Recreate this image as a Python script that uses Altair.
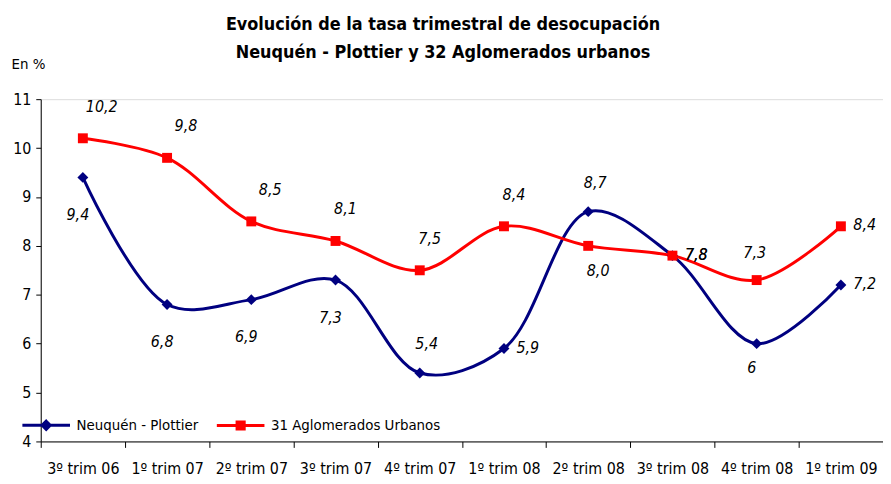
import altair as alt
import pandas as pd

# ---------------- data ----------------
quarters = ["3º trim 06", "1º trim 07", "2º trim 07", "3º trim 07", "4º trim 07",
            "1º trim 08", "2º trim 08", "3º trim 08", "4º trim 08", "1º trim 09"]
neuquen = [9.4, 6.8, 6.9, 7.3, 5.4, 5.9, 8.7, 7.8, 6.0, 7.2]
neuquen_labels = ["9,4", "6,8", "6,9", "7,3", "5,4", "5,9", "8,7", "7,8", "6", "7,2"]
aglom = [10.2, 9.8, 8.5, 8.1, 7.5, 8.4, 8.0, 7.8, 7.3, 8.4]
aglom_labels = ["10,2", "9,8", "8,5", "8,1", "7,5", "8,4", "8,0", "7,8", "7,3", "8,4"]
series_names = ["Neuquén - Plottier", "31 Aglomerados Urbanos"]
y_ticks = [4, 5, 6, 7, 8, 9, 10, 11]
title_lines = ["Evolución de la tasa trimestral de desocupación",
               "Neuquén - Plottier y 32 Aglomerados urbanos"]

# ---------------- layout / style ----------------
neuquen_place = ["bl", "bl", "bl", "bl", "a", "r", "a", "r", "b1", "r"]
aglom_place = ["ar1", "ar1", "ar1", "ar2", "ar2", "ar2", "br", "r", "a2", "r"]
offsets = {"bl": (-5, 38), "a": (7, -29), "r": (24, -1), "b1": (-5, 25),
           "ar1": (19, -32), "ar2": (10, -32), "br": (10, 25), "a2": (-2, -27)}
colors = ["#000080", "#FF0000"]
shapes = ["diamond", "square"]
sizes = [121, 100]
FONT = "DejaVu Sans Condensed, Liberation Sans Narrow, sans-serif"
legend_paths = [
    "M-1,0L1,0M0,-0.17L0.17,0L0,0.17L-0.17,0Z",
    "M-1,0L1,0M-0.15,-0.15L0.15,-0.15L0.15,0.15L-0.15,0.15Z",
]

rows = []
for s, vals, labs, places in [(series_names[0], neuquen, neuquen_labels, neuquen_place),
                              (series_names[1], aglom, aglom_labels, aglom_place)]:
    for q, v, l, p in zip(quarters, vals, labs, places):
        rows.append({"quarter": q, "value": v, "label": l, "series": s, "place": p})
df = pd.DataFrame(rows)

x_enc = alt.X("quarter:N", sort=quarters,
              scale=alt.Scale(type="band", paddingInner=0, paddingOuter=0),
              axis=alt.Axis(title=None, labelAngle=0, tickBand="extent", tickSize=6,
                            labelPadding=13, labelFontSize=16, labelFont=FONT,
                            labelColor="black", domainColor="black", tickColor="black",
                            labelOverlap=False, grid=False))
y_enc = alt.Y("value:Q", scale=alt.Scale(domain=[4, 11], nice=False, zero=False),
              axis=alt.Axis(title="En %", titleAngle=0, titleAlign="left",
                            titleBaseline="middle", titleX=-30, titleY=-36,
                            titleFontSize=15, titleFontWeight="normal", titleFont=FONT,
                            titleColor="black", values=y_ticks, tickSize=5,
                            labelPadding=5, labelFontSize=16, labelFont=FONT,
                            labelColor="black", domainColor="black", tickColor="black",
                            grid=False))

base = alt.Chart(df).encode(x=x_enc, y=y_enc)

layers = []
for name, c in zip(series_names, colors):
    layers.append(base.transform_filter(alt.datum.series == name)
                  .mark_line(color=c, strokeWidth=3, interpolate="catmull-rom"))
for name, c, sh, sz in zip(series_names, colors, shapes, sizes):
    layers.append(base.transform_filter(alt.datum.series == name)
                  .mark_point(shape=sh, filled=True, size=sz, color=c, opacity=1))
for key, (dx, dy) in offsets.items():
    layers.append(base.transform_filter(alt.datum.place == key)
                  .mark_text(dx=dx, dy=dy, fontSize=16, fontStyle="italic", font=FONT,
                             color="black", align="center", baseline="middle")
                  .encode(text="label:N"))

leg = alt.Legend(title=None, orient="none", legendX=-20, legendY=303,
                 direction="horizontal", symbolSize=2304, symbolStrokeWidth=3,
                 labelFontSize=15, labelFont=FONT, labelColor="black", labelLimit=400,
                 labelOffset=5, columnPadding=12, padding=0, symbolOpacity=1)
legend_layer = (alt.Chart(df).transform_filter("false")
                .mark_point(filled=True, strokeWidth=3)
                .encode(x=x_enc, y=y_enc,
                        shape=alt.Shape("series:N", scale=alt.Scale(domain=series_names, range=legend_paths), legend=leg),
                        fill=alt.Fill("series:N", scale=alt.Scale(domain=series_names, range=colors), legend=leg),
                        stroke=alt.Stroke("series:N", scale=alt.Scale(domain=series_names, range=colors), legend=leg)))
layers.append(legend_layer)

chart = (alt.layer(*layers)
         .properties(width=849, height=345, autosize="none",
                     padding={"left": 33, "top": 90, "right": 0, "bottom": 40},
                     title=alt.TitleParams(text=title_lines, fontSize=18, fontWeight="bold",
                                           font=FONT, color="black", lineHeight=29,
                                           anchor="middle", dx=-19, offset=-6))
         .configure_view(stroke=None)
         .configure(background="white"))

chart.save("out.html", embed_options={"renderer": "svg", "actions": False})
